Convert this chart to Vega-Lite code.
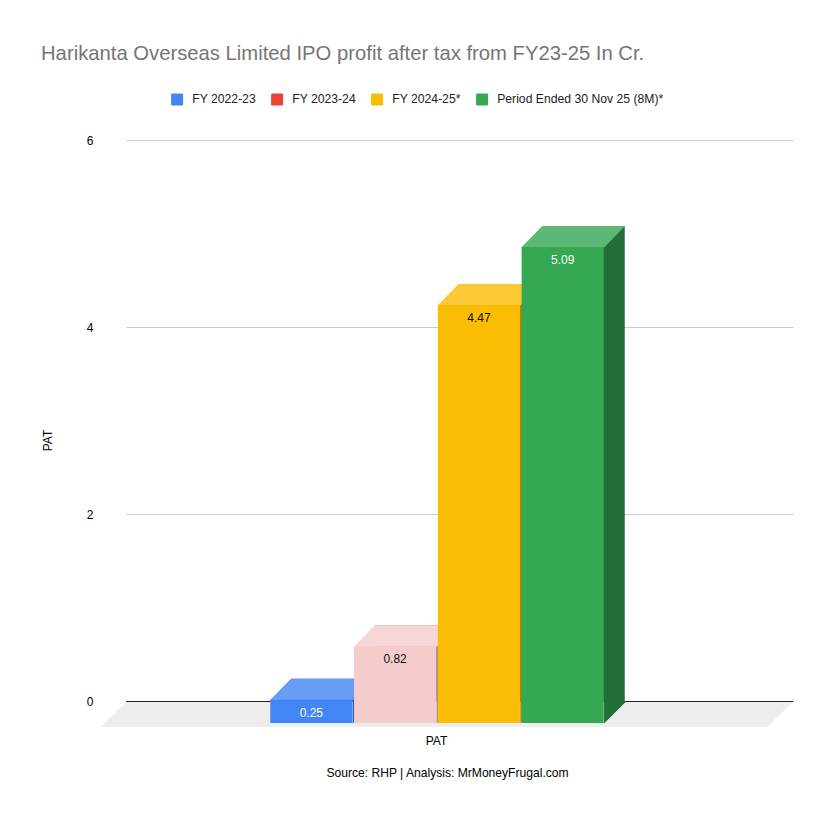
{
  "$schema": "https://vega.github.io/schema/vega-lite/v6.json",
  "width": 667,
  "height": 561,
  "autosize": "none",
  "padding": {"left": 126, "top": 140, "right": 42, "bottom": 120},
  "background": "#ffffff",
  "config": {"font": "Liberation Sans", "view": {"stroke": null}},
  "title": {
    "text": "Harikanta Overseas Limited IPO profit after tax from FY23-25 In Cr.",
    "anchor": "start",
    "frame": "group",
    "dx": -85,
    "offset": 29,
    "fontSize": 20.25,
    "fontWeight": "normal",
    "color": "#757575"
  },
  "data": {
    "values": [
      {"metric": "PAT", "series": "FY 2022-23", "value": 0.25},
      {"metric": "PAT", "series": "FY 2023-24", "value": 0.82},
      {"metric": "PAT", "series": "FY 2024-25*", "value": 4.47},
      {"metric": "PAT", "series": "Period Ended 30 Nov 25 (8M)*", "value": 5.09}
    ]
  },
  "encoding": {
    "x": {
      "field": "metric",
      "type": "nominal",
      "scale": {"type": "band", "paddingInner": 0, "paddingOuter": 0.5, "range": [-1.5, 665.5]},
      "axis": null
    },
    "y": {
      "field": "value",
      "type": "quantitative",
      "stack": null,
      "scale": {"domain": [0, 6], "nice": false, "range": [562, 1]},
      "axis": null
    }
  },
  "layer": [
    {
      "transform": [{"filter": "datum.series === 'FY 2022-23'"}],
      "mark": {
        "type": "point",
        "shape": "M-333.5,1L333.5,1L307.5,26L-358.5,26Z",
        "size": 4,
        "filled": true,
        "opacity": 1,
        "strokeWidth": 0,
        "color": "#ededed"
      },
      "encoding": {
        "x": {
          "field": "metric",
          "type": "nominal",
          "scale": {"type": "band", "paddingInner": 0, "paddingOuter": 0.5},
          "axis": {
            "title": "Source: RHP | Analysis: MrMoneyFrugal.com",
            "titleFontSize": 12.1,
            "titleFontWeight": "normal",
            "titleColor": "#000000",
            "titleX": 321,
            "titleY": 65,
            "labelAngle": 0,
            "labelFontSize": 12,
            "labelColor": "#000000",
            "labelPadding": 34,
            "labelOffset": -23,
            "domain": false,
            "ticks": false
          }
        },
        "y": {
          "datum": 0,
          "type": "quantitative",
          "scale": {"domain": [0, 6], "nice": false},
          "axis": {
            "title": "PAT",
            "titleFontSize": 12,
            "titleFontWeight": "normal",
            "titleColor": "#000000",
            "titleX": -72,
            "titleY": 300,
            "values": [0, 2, 4, 6],
            "format": "d",
            "labelFontSize": 12,
            "labelColor": "#000000",
            "labelPadding": 33,
            "domain": false,
            "ticks": false,
            "grid": true,
            "gridColor": "#cccccc"
          }
        }
      }
    },
    {
      "transform": [{"filter": "datum.series === 'FY 2022-23'"}],
      "mark": {"type": "rule", "color": "#222222", "strokeWidth": 1},
      "encoding": {
        "x": null,
        "y": {"datum": 0, "type": "quantitative", "scale": {"domain": [0, 6], "nice": false, "range": [561.5, 0.5]}, "axis": null}
      }
    },
    {
      "mark": {"type": "bar"},
      "encoding": {
        "xOffset": {"field": "series", "type": "nominal", "sort": null, "scale": {"paddingInner": 0.02, "paddingOuter": 0}},
        "color": {
          "field": "series",
          "type": "nominal",
          "sort": null,
          "legend": null,
          "scale": {"range": ["#2e5daa", "#ab8f8f", "#b08403", "#226e38"]}
        }
      }
    },
    {
      "mark": {
        "type": "point",
        "shape": "M20.4,0L41.9,0L20.4,21.5Z",
        "size": 4,
        "filled": true,
        "opacity": 1,
        "strokeWidth": 0
      },
      "encoding": {
        "xOffset": {"field": "series", "type": "nominal", "sort": null},
        "y": {"datum": 0, "type": "quantitative", "scale": {"domain": [0, 6], "nice": false, "range": [562, 1]}, "axis": null},
        "color": {
          "field": "series",
          "type": "nominal",
          "sort": null,
          "legend": null,
          "scale": {"range": ["#2e5daa", "#ab8f8f", "#b08403", "#226e38"]}
        }
      }
    },
    {
      "mark": {
        "type": "point",
        "shape": "M-41.4,0L41.4,0L20.4,21.5L-62.4,21.5Z",
        "size": 4,
        "filled": true,
        "opacity": 1,
        "strokeWidth": 0
      },
      "encoding": {
        "xOffset": {"field": "series", "type": "nominal", "sort": null},
        "color": {
          "field": "series",
          "type": "nominal",
          "sort": null,
          "legend": null,
          "scale": {"range": ["#679df6", "#f6d6d6", "#fcc936", "#5cb975"]}
        }
      }
    },
    {
      "mark": {"type": "bar"},
      "encoding": {
        "x": {
          "field": "metric",
          "type": "nominal",
          "scale": {"type": "band", "paddingInner": 0, "paddingOuter": 0.5, "range": [-22.5, 644.5]},
          "axis": null
        },
        "y": {
          "field": "value",
          "type": "quantitative",
          "stack": null,
          "scale": {"domain": [0, 6], "nice": false, "range": [583, 22]},
          "axis": null
        },
        "xOffset": {"field": "series", "type": "nominal", "sort": null, "scale": {"paddingInner": 0.02, "paddingOuter": 0}},
        "color": {
          "condition": {"test": "datum.series === 'FY 2023-24'", "value": "#f4cccc"},
          "field": "series",
          "type": "nominal",
          "sort": null,
          "scale": {"range": ["#4285f4", "#ea4335", "#fbbc04", "#34a853"]},
          "legend": {
            "orient": "none",
            "legendX": 45,
            "legendY": -47,
            "direction": "horizontal",
            "columns": 4,
            "title": null,
            "symbolType": "M-0.8,-1H0.8Q1,-1 1,-0.8V0.8Q1,1 0.8,1H-0.8Q-1,1 -1,0.8V-0.8Q-1,-1 -0.8,-1Z",
            "symbolSize": 144,
            "symbolStrokeWidth": 0,
            "symbolOpacity": 1,
            "labelFontSize": 12.2,
            "labelColor": "#222222",
            "labelOffset": 9,
            "columnPadding": 15,
            "labelLimit": 300
          }
        }
      }
    },
    {
      "mark": {"type": "text", "fontSize": 12, "dx": -21, "dy": 34},
      "encoding": {
        "xOffset": {"field": "series", "type": "nominal", "sort": null},
        "text": {"field": "value", "type": "quantitative", "format": ".2f"},
        "color": {
          "condition": {"test": "datum.series === 'FY 2022-23' || datum.series === 'Period Ended 30 Nov 25 (8M)*'", "value": "#ffffff"},
          "value": "#111111"
        }
      }
    }
  ],
  "resolve": {"scale": {"color": "independent", "x": "independent", "y": "independent"}}
}
